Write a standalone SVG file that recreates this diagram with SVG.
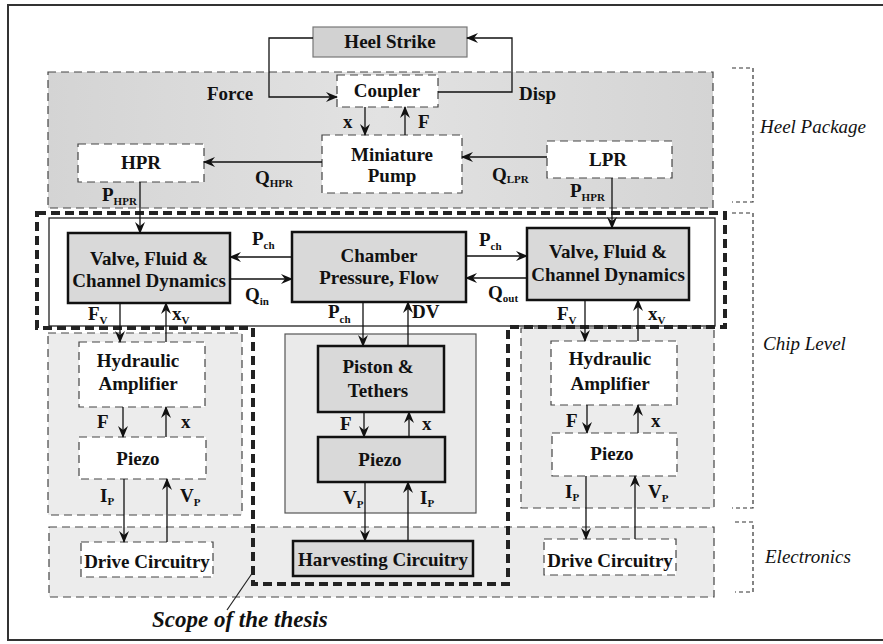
<svg xmlns="http://www.w3.org/2000/svg" width="883" height="644" viewBox="0 0 883 644" font-family="'Liberation Serif', 'Times New Roman', 'DejaVu Serif', serif">
<defs>
<marker id="ah" viewBox="0 0 12 10" refX="11" refY="5" markerWidth="12" markerHeight="10" markerUnits="userSpaceOnUse" orient="auto">
<path d="M0,0 L12,5 L0,10 L4,5 z" fill="#111"/>
</marker>
<linearGradient id="hg" x1="0" y1="0" x2="1" y2="0">
<stop offset="0" stop-color="#d4d4d4"/><stop offset="0.5" stop-color="#e2e2e2"/><stop offset="1" stop-color="#d4d4d4"/>
</linearGradient>
</defs>
<style>
text{font-family:'Liberation Serif','Times New Roman','DejaVu Serif',serif}
.t{font-weight:bold;font-size:19px;fill:#111;text-anchor:middle}
.l{font-weight:bold;font-size:19px;fill:#111}
.s{font-size:11px}
.it{font-style:italic;font-size:19px;fill:#111}
.sc{font-style:italic;font-weight:bold;font-size:23px;fill:#111}
.db{fill:#fff;stroke:#444;stroke-width:1.2;stroke-dasharray:8 5}
.gb{fill:#d9d9d9;stroke:#111;stroke-width:2.5}
.rg{fill:#ececec;stroke:#444;stroke-width:1.2;stroke-dasharray:8 5}
.br{fill:none;stroke:#333;stroke-width:1.2;stroke-dasharray:4 3}
.c{fill:none;stroke:#111;stroke-width:1.3;marker-end:url(#ah)}
</style>
<rect x="0" y="0" width="883" height="644" fill="#fff"/>
<rect x="8" y="5" width="890" height="635" fill="none" stroke="#333" stroke-width="2"/>

<g id="regions">
<rect x="48" y="72" width="665" height="136" fill="url(#hg)" stroke="#444" stroke-width="1.2" stroke-dasharray="8 5"/>
<path class="br" d="M732,68 H753 V202 H732"/>
<path class="br" d="M732,213 H753 V508 H732"/>
<path class="br" d="M735,522 H753 V592 H735"/>
<rect class="rg" x="48" y="333" width="194" height="182"/>
<rect class="rg" x="521" y="328" width="193" height="180"/>
<rect class="rg" x="49" y="527" width="665" height="70"/>
<rect x="285" y="334" width="191" height="179" fill="#eaeaea" stroke="#555" stroke-width="1.2"/>
<rect x="49" y="218" width="666" height="108" fill="#fff" stroke="#222" stroke-width="1.3"/>
<path d="M37,213 H725 V327 H508 V584 H253 V328 H37 Z" fill="none" stroke="#222" stroke-width="4" stroke-dasharray="9 5"/>
</g>

<g id="heel-strike"><rect x="313" y="27" width="154" height="30" fill="#d2d2d2" stroke="#777" stroke-width="1.2"/><text class="t" x="390" y="48">Heel Strike</text></g>
<g id="coupler"><rect class="db" x="337" y="75" width="101" height="32"/><text class="t" x="387" y="97">Coupler</text></g>
<g id="pump"><rect class="db" x="322" y="135" width="140" height="58"/><text class="t" x="392" y="161">Miniature</text><text class="t" x="392" y="182">Pump</text></g>
<g id="hpr"><rect class="db" x="78" y="144" width="126" height="38"/><text class="t" x="141" y="169">HPR</text></g>
<g id="lpr"><rect class="db" x="547" y="141" width="125" height="37"/><text class="t" x="608" y="166">LPR</text></g>

<g id="valve-left"><rect class="gb" x="68" y="233" width="162" height="70"/><text class="t" x="149" y="265">Valve, Fluid &amp;</text><text class="t" x="149" y="287">Channel Dynamics</text></g>
<g id="chamber"><rect class="gb" x="292" y="232" width="174" height="70"/><text class="t" x="379" y="262">Chamber</text><text class="t" x="379" y="284">Pressure, Flow</text></g>
<g id="valve-right"><rect class="gb" x="527" y="228" width="162" height="72"/><text class="t" x="608" y="258">Valve, Fluid &amp;</text><text class="t" x="608" y="281">Channel Dynamics</text></g>

<g id="amp-left"><rect class="db" x="79" y="342" width="126" height="65"/><text class="t" x="138" y="367">Hydraulic</text><text class="t" x="138" y="390">Amplifier</text></g>
<g id="piezo-left"><rect class="db" x="79" y="437" width="127" height="42"/><text class="t" x="138" y="465">Piezo</text></g>
<g id="drive-left"><rect class="db" x="81" y="542" width="132" height="35"/><text class="t" x="147" y="568">Drive Circuitry</text></g>

<g id="piston"><rect class="gb" x="318" y="346" width="126" height="66"/><text class="t" x="378" y="373">Piston &amp;</text><text class="t" x="378" y="397">Tethers</text></g>
<g id="piezo-center"><rect class="gb" x="318" y="437" width="127" height="45"/><text class="t" x="380" y="466">Piezo</text></g>
<g id="harvesting"><rect class="gb" x="293" y="541" width="180" height="35"/><text class="t" x="383" y="566">Harvesting Circuitry</text></g>

<g id="amp-right"><rect class="db" x="551" y="341" width="126" height="64"/><text class="t" x="610" y="365">Hydraulic</text><text class="t" x="610" y="390">Amplifier</text></g>
<g id="piezo-right"><rect class="db" x="552" y="433" width="125" height="43"/><text class="t" x="612" y="460">Piezo</text></g>
<g id="drive-right"><rect class="db" x="544" y="539" width="132" height="36"/><text class="t" x="610" y="567">Drive Circuitry</text></g>

<g id="connectors">
<path class="c" d="M313,38 H269 V97 H337"/>
<path class="c" d="M438,92 H512 V38 H467"/>
<path class="c" d="M365,107 V135"/>
<path class="c" d="M405,135 V107"/>
<path class="c" d="M322,162 H204"/>
<path class="c" d="M547,157 H462"/>
<path class="c" d="M140,182 V233"/>
<path class="c" d="M612,178 V228"/>
<path class="c" d="M292,257 H230"/>
<path class="c" d="M230,279 H292"/>
<path class="c" d="M466,256 H527"/>
<path class="c" d="M527,278 H466"/>
<path class="c" d="M120,303 V342"/>
<path class="c" d="M166,342 V303"/>
<path class="c" d="M363,302 V346"/>
<path class="c" d="M408,346 V302"/>
<path class="c" d="M585,300 V341"/>
<path class="c" d="M638,341 V300"/>
<path class="c" d="M123,407 V437"/>
<path class="c" d="M166,437 V407"/>
<path class="c" d="M364,412 V437"/>
<path class="c" d="M409,437 V412"/>
<path class="c" d="M587,405 V433"/>
<path class="c" d="M638,433 V405"/>
<path class="c" d="M124,479 V542"/>
<path class="c" d="M167,542 V479"/>
<path class="c" d="M365,482 V541"/>
<path class="c" d="M408,541 V482"/>
<path class="c" d="M586,476 V539"/>
<path class="c" d="M635,539 V476"/>
<path d="M227,610 L253,572" fill="none" stroke="#222" stroke-width="1.2"/>
</g>

<g id="labels">
<text class="l" x="207" y="100">Force</text>
<text class="l" x="519" y="100">Disp</text>
<text class="l" x="343" y="128">x</text>
<text class="l" x="418" y="128">F</text>
<text class="l" x="255" y="184">Q<tspan class="s" dy="3">HPR</tspan></text>
<text class="l" x="492" y="181">Q<tspan class="s" dy="2">LPR</tspan></text>
<text class="l" x="102" y="201">P<tspan class="s" dy="4">HPR</tspan></text>
<text class="l" x="570" y="197">P<tspan class="s" dy="4">HPR</tspan></text>
<text class="l" x="252" y="245">P<tspan class="s" dy="4">ch</tspan></text>
<text class="l" x="245" y="301">Q<tspan class="s" dy="4">in</tspan></text>
<text class="l" x="479" y="246">P<tspan class="s" dy="4">ch</tspan></text>
<text class="l" x="488" y="299">Q<tspan class="s" dy="3">out</tspan></text>
<text class="l" x="88" y="320">F<tspan class="s" dy="4">V</tspan></text>
<text class="l" x="172" y="320">x<tspan class="s" dy="4">V</tspan></text>
<text class="l" x="328" y="318">P<tspan class="s" dy="5">ch</tspan></text>
<text class="l" x="412" y="318">DV</text>
<text class="l" x="557" y="320">F<tspan class="s" dy="4">V</tspan></text>
<text class="l" x="648" y="320">x<tspan class="s" dy="4">V</tspan></text>
<text class="l" x="97" y="428">F</text>
<text class="l" x="181" y="428">x</text>
<text class="l" x="340" y="430">F</text>
<text class="l" x="422" y="430">x</text>
<text class="l" x="566" y="427">F</text>
<text class="l" x="651" y="427">x</text>
<text class="l" x="100" y="502">I<tspan class="s" dy="3">P</tspan></text>
<text class="l" x="180" y="502">V<tspan class="s" dy="4">P</tspan></text>
<text class="l" x="343" y="504">V<tspan class="s" dy="4">P</tspan></text>
<text class="l" x="420" y="504">I<tspan class="s" dy="3">P</tspan></text>
<text class="l" x="565" y="498">I<tspan class="s" dy="3">P</tspan></text>
<text class="l" x="648" y="498">V<tspan class="s" dy="4">P</tspan></text>
<text class="it" x="760" y="133">Heel Package</text>
<text class="it" x="763" y="350">Chip Level</text>
<text class="it" x="765" y="563">Electronics</text>
<text class="sc" x="152" y="627">Scope of the thesis</text>
</g>
</svg>
